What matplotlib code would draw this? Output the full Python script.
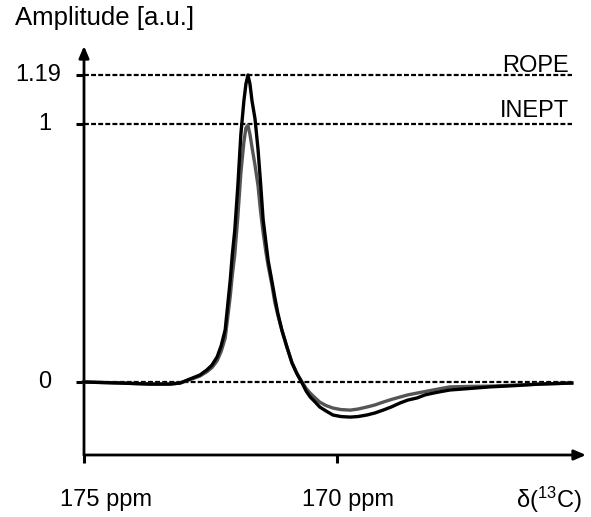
import numpy as np
import matplotlib.pyplot as plt

# values (ppm, amplitude)
ppm = [175.00, 174.29, 173.70, 173.30, 173.10, 173.00, 172.85, 172.71, 172.57, 172.47,
       172.37, 172.29, 172.21, 172.16, 172.11, 172.07, 172.02, 171.96, 171.90, 171.84,
       171.80, 171.76, 171.72, 171.68, 171.62, 171.56, 171.51, 171.46, 171.41, 171.36,
       171.29, 171.23, 171.17, 171.09, 170.99, 170.89, 170.79, 170.69, 170.61, 170.53,
       170.43, 170.34, 170.22, 170.08, 169.92, 169.74, 169.59, 169.41, 169.25, 169.09,
       168.93, 168.75, 168.60, 168.42, 168.26, 168.10, 167.94, 167.77, 167.37, 166.98,
       166.48, 165.99, 165.36]
rope = [0.000, -0.004, -0.008, -0.008, -0.004, 0.004, 0.016, 0.027, 0.047, 0.066,
        0.097, 0.140, 0.202, 0.298, 0.395, 0.492, 0.589, 0.760, 0.960, 1.090,
        1.155, 1.190, 1.155, 1.090, 1.020, 0.900, 0.770, 0.630, 0.550, 0.470,
        0.395, 0.329, 0.267, 0.202, 0.136, 0.074, 0.031, -0.004, -0.035, -0.058,
        -0.078, -0.097, -0.112, -0.128, -0.134, -0.136, -0.134, -0.128, -0.120, -0.109,
        -0.097, -0.081, -0.070, -0.062, -0.050, -0.043, -0.037, -0.031, -0.025, -0.019,
        -0.014, -0.008, -0.004]
inept = [0.000, -0.004, -0.008, -0.008, -0.004, 0.003, 0.013, 0.023, 0.040, 0.056,
         0.082, 0.118, 0.170, 0.250, 0.332, 0.413, 0.495, 0.640, 0.810, 0.930,
         0.985, 0.995, 0.960, 0.910, 0.840, 0.760, 0.660, 0.580, 0.510, 0.450,
         0.380, 0.310, 0.260, 0.200, 0.135, 0.075, 0.033, 0.000, -0.025, -0.043,
         -0.062, -0.078, -0.091, -0.101, -0.107, -0.109, -0.105, -0.097, -0.089, -0.078,
         -0.068, -0.058, -0.050, -0.043, -0.037, -0.031, -0.025, -0.019, -0.017, -0.016,
         -0.012, -0.008, -0.004]

ref_levels = [1.19, 1.0, 0.0]
ref_labels = ["1.19", "1", "0"]
x_ticks = [175, 170]
x_tick_labels = ["175 ppm", "170 ppm"]

plt.rcParams['font.family'] = ['Liberation Sans', 'DejaVu Sans']
plt.rcParams['mathtext.fontset'] = 'custom'
plt.rcParams['mathtext.rm'] = 'Liberation Sans'

W, H = 591, 517
fig = plt.figure(figsize=(W / 100, H / 100), dpi=100)
ax = fig.add_axes([0, 0, 1, 1])
ax.axis('off')

# pixel calibration: 175 ppm at x=84, 50.6 px per ppm; 0 at y=382, 258 px per unit
px_per_ppm = 50.6
px_per_amp = 258.0
x0, y0 = 84, 382
ax.set_xlim(175 + x0 / px_per_ppm, 175 - (W - x0) / px_per_ppm)
ax.set_ylim((y0 - H) / px_per_amp, y0 / px_per_amp)

def px(x, y):
    # pixel -> axes fraction
    return x / W, 1 - y / H

y_axis_bottom = (y0 - 455) / px_per_amp
y_axis_top = (y0 - 46) / px_per_amp
x_axis_end = 175 - (586 - x0) / px_per_ppm
dash_end = 175 - (572 - x0) / px_per_ppm

# axes with arrows
arrow = dict(arrowstyle="-|>,head_length=0.7,head_width=0.3", color='black', lw=2,
             shrinkA=0, shrinkB=0)
ax.annotate("", xy=(x_axis_end, y_axis_bottom), xytext=(175, y_axis_bottom), arrowprops=arrow)
ax.annotate("", xy=(175, y_axis_top), xytext=(175, y_axis_bottom), arrowprops=arrow)

# ticks and dashed reference lines
for t in x_ticks:
    ax.plot([t, t], [y_axis_bottom, y_axis_bottom - 8 / px_per_amp], color='black', lw=2.2,
            solid_capstyle='butt')
for lev in ref_levels:
    ax.plot([175, 175 + 8 / px_per_ppm], [lev, lev], color='black', lw=2.2, solid_capstyle='butt')
    ax.plot([175, dash_end], [lev, lev], color='black', lw=1.6, linestyle=(0, (2.2, 1.0)))

# spectra
ax.plot(ppm, inept, color='#555555', lw=2.4, zorder=3, solid_joinstyle='round')
ax.plot(ppm, rope, color='black', lw=2.4, zorder=4, solid_joinstyle='round')

# texts
fs = 17
ax.text(*px(15, 18), "Amplitude [a.u.]", transform=ax.transAxes, fontsize=18.5,
        ha='left', va='center')
label_x = [38, 45, 45]
for lev, lab, lx in zip(ref_levels, ref_labels, label_x):
    ax.text(*px(lx, y0 - lev * px_per_amp), lab, transform=ax.transAxes, fontsize=fs,
            ha='center', va='center')
tick_x = [106, 348]
for lab, tx in zip(x_tick_labels, tick_x):
    ax.text(*px(tx, 500), lab, transform=ax.transAxes, fontsize=fs, ha='center', va='center')
ax.text(*px(549, 500), r"δ($\mathregular{^{13}}$C)", transform=ax.transAxes, fontsize=fs,
        ha='center', va='center')
ax.text(*px(569, 66), "ROPE", transform=ax.transAxes, fontsize=fs, ha='right', va='center')
ax.text(*px(569, 111), "INEPT", transform=ax.transAxes, fontsize=fs, ha='right', va='center')

plt.savefig("out.png", dpi=100)
